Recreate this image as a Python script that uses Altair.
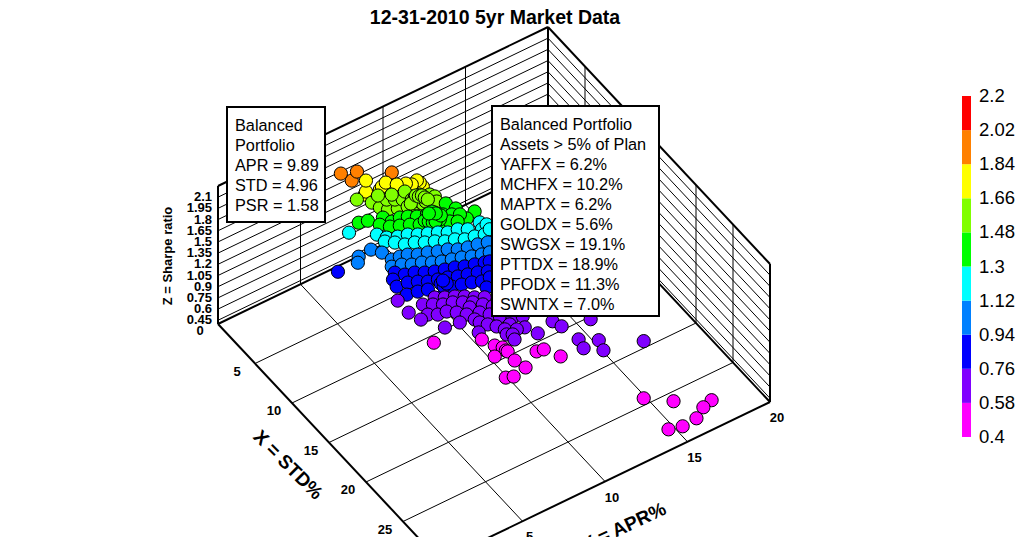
import altair as alt
import pandas as pd

# Portfolio cloud, read band by band: (STD %, APR %), Sharpe from the colour band
band_sharpe = [1.93, 1.75, 1.57, 1.39, 1.21, 1.03, 0.85, 0.67, 0.50]

orange_std = [3.07, 2.00, 2.50, 4.04]
orange_apr = [6.73, 6.55, 7.30, 8.72]

yellow_std = [5.40, 4.92, 4.62, 4.76, 4.43, 3.86, 3.69, 3.50, 4.13, 3.67, 3.45, 2.49]
yellow_apr = [9.99, 10.02, 9.98, 9.61, 9.40, 8.08, 8.28, 8.60, 8.98, 7.25, 7.42, 7.85]

lime_std = [2.60, 3.49, 4.26, 4.78, 5.10, 3.85, 4.19, 4.52, 4.64, 4.80, 5.22, 5.60, 5.34, 5.72, 5.88, 6.22, 6.12, 3.13, 3.63, 3.91,
            4.90, 4.85, 5.15, 5.11, 5.40, 5.24, 5.46, 5.41, 5.71, 5.66, 5.21, 4.72, 4.93, 4.97, 5.27, 5.57]
lime_apr = [7.25, 7.76, 7.90, 8.16, 8.61, 8.50, 8.84, 9.17, 9.67, 10.07, 10.49, 10.63, 9.10, 9.48, 9.89, 10.23, 10.51, 8.29, 8.90, 9.57,
            9.55, 9.75, 9.80, 10.01, 10.05, 9.51, 9.60, 9.80, 9.85, 10.05, 9.35, 9.88, 9.96, 10.13, 10.17, 10.22]

green_std = [3.52, 3.73, 5.50, 6.36, 7.41, 7.69, 4.09, 4.81, 4.80, 5.05, 5.43, 5.67, 5.83, 6.34, 6.71, 7.05, 4.58, 5.17, 5.50, 5.84, 6.25, 6.58, 7.00, 7.24, 7.57,
             5.97, 5.92, 6.31, 6.26, 6.65, 6.11, 6.36, 6.62, 6.65, 6.34, 5.62, 5.95, 5.66]
green_apr = [6.95, 7.41, 11.34, 11.56, 12.23, 11.63, 8.16, 8.37, 8.87, 9.24, 9.62, 10.12, 10.52, 10.79, 11.16, 11.50, 7.75, 8.10, 8.55, 9.01, 9.42, 9.88, 10.30, 10.80, 11.13,
             10.04, 10.24, 10.25, 10.45, 10.46, 9.79, 9.92, 10.05, 10.21, 10.66, 10.44, 10.53, 10.24]

cyan_std = [2.81, 4.15, 4.82, 5.20, 5.44, 5.86, 6.19, 6.53, 6.94, 7.09, 7.51, 7.40, 8.10, 7.87, 5.09, 5.60, 6.19, 6.43, 6.85, 7.18, 7.60, 7.85, 8.26, 8.42, 8.66, 8.43]
cyan_apr = [6.68, 7.77, 8.06, 8.56, 9.06, 9.48, 9.94, 10.40, 10.81, 11.35, 11.77, 12.54, 12.36, 12.75, 7.83, 8.21, 8.55, 9.04, 9.46, 9.92, 10.34, 10.84, 11.25, 11.78, 12.28, 12.69]

azure_std = [4.04, 4.14, 4.63, 4.76, 5.78, 5.86, 6.02, 6.44, 6.68, 7.01, 7.25, 7.67, 7.92, 8.07, 8.32, 6.40, 6.64, 7.06, 7.31, 7.73, 8.05, 8.29, 8.54, 8.87, 9.12, 9.27]
azure_apr = [7.46, 6.67, 6.40, 7.80, 7.94, 8.39, 8.80, 9.22, 9.72, 10.18, 10.67, 11.09, 11.59, 12.12, 12.62, 7.66, 8.16, 8.58, 9.08, 9.50, 9.95, 10.45, 10.94, 11.40, 11.90, 12.31]

blue_std = [3.41, 5.88, 6.47, 6.71, 7.13, 7.46, 7.71, 7.95, 8.27, 8.52, 8.77, 8.89, 6.41, 7.18, 7.29, 7.63, 8.05, 8.29, 8.53, 8.86, 9.10, 9.35, 9.68, 8.30, 8.50, 8.75, 9.94, 9.48, 9.73, 9.97, 10.31, 10.29, 11.03,
            8.76, 9.15, 9.01, 8.59]
blue_apr = [5.74, 8.08, 8.42, 8.91, 9.33, 9.79, 10.29, 10.79, 11.24, 11.74, 12.23, 12.48, 7.73, 7.61, 8.23, 8.69, 9.11, 9.61, 10.10, 10.56, 11.05, 11.55, 12.01, 7.72, 8.30, 8.80, 9.10, 9.91, 10.41, 10.91, 11.37, 11.86, 11.33,
            9.57, 9.58, 9.82, 9.78]

purple_std = [8.55, 8.97, 9.31, 9.72, 10.22, 10.64, 7.27, 8.67, 9.09, 9.51, 9.74, 10.16, 10.58, 11.18, 11.77, 12.18, 10.89, 12.69, 8.78, 9.75, 10.17, 10.28, 10.79, 11.38, 11.75, 12.34, 12.93, 13.56, 9.90, 12.15, 12.62, 13.13, 13.89, 13.68, 11.79, 11.60, 14.05, 14.28, 14.94, 14.78, 13.45, 14.80, 15.05, 15.57, 16.01, 15.58, 16.40, 17.00, 18.25, 19.24, 19.17, 20.25, 21.14]
purple_apr = [9.30, 9.72, 10.18, 10.59, 10.97, 11.39, 7.63, 8.53, 8.95, 9.37, 9.86, 10.28, 10.70, 11.04, 11.38, 11.79, 10.37, 12.17, 7.62, 8.34, 8.76, 9.25, 9.63, 9.97, 10.59, 10.93, 11.28, 11.78, 7.86, 10.11, 10.20, 10.46, 12.24, 10.75, 9.37, 8.55, 11.38, 10.98, 11.89, 11.48, 9.77, 10.86, 11.11, 10.99, 12.20, 13.29, 13.47, 14.96, 13.67, 13.53, 14.48, 14.28, 16.32]

magenta_std = [11.35, 13.09, 14.16, 14.66, 15.06, 15.22, 15.12, 16.30, 17.37, 17.42, 17.66, 16.43, 16.56, 17.88, 25.02, 26.53, 28.04, 28.31, 28.98, 29.10, 28.77]
magenta_apr = [7.99, 10.12, 10.42, 10.68, 10.69, 10.73, 9.99, 10.67, 10.85, 9.63, 10.00, 11.94, 12.32, 12.75, 14.58, 15.71, 17.34, 16.72, 16.00, 15.11, 14.40]

std_ticks = [5, 10, 15, 20, 25]
apr_ticks = [5, 10, 15, 20]
z_ticks = [0.45, 0.6, 0.75, 0.9, 1.05, 1.2, 1.35, 1.5, 1.65, 1.8, 1.95, 2.1]
z_labels = ["0.45", "0.6", "0.75", "0.9", "1.05", "1.2", "1.35", "1.5", "1.65", "1.8", "1.95", "2.1"]
legend_ticks = [0.4, 0.58, 0.76, 0.94, 1.12, 1.3, 1.48, 1.66, 1.84, 2.02, 2.2]
legend_labels = ["0.4", "0.58", "0.76", "0.94", "1.12", "1.3", "1.48", "1.66", "1.84", "2.02", "2.2"]
band_colors = ["#ff00ff", "#8000ff", "#0000ff", "#0080ff", "#00ffff", "#00ff00", "#80ff00", "#ffff00", "#ff8000", "#ff0000"]

box1_lines = ["Balanced", "Portfolio", "APR = 9.89", "STD = 4.96", "PSR = 1.58"]
box2_lines = ["Balanced Portfolio", "Assets > 5% of Plan", "YAFFX = 6.2%", "MCHFX = 10.2%", "MAPTX = 6.2%",
              "GOLDX = 5.6%", "SWGSX = 19.1%", "PTTDX = 18.9%", "PFODX = 11.3%", "SWNTX = 7.0%"]

STD_MAX, APR_MAX, Z_MIN, Z_MAX = 30, 20, 0.4, 2.25


def px(s, a):
    return 218 + 7.4 * s + 16.5 * a


def py(s, a, z=Z_MIN):
    return 324 + 7.9 * s - 7.95 * a - 74.6 * (z - Z_MIN)


def seg(s1, a1, z1, s2, a2, z2):
    return dict(x=px(s1, a1), y=py(s1, a1, z1), x2=px(s2, a2), y2=py(s2, a2, z2))


# points
bands = [(orange_std, orange_apr), (yellow_std, yellow_apr), (lime_std, lime_apr), (green_std, green_apr), (cyan_std, cyan_apr),
         (azure_std, azure_apr), (blue_std, blue_apr), (purple_std, purple_apr), (magenta_std, magenta_apr)]
rows = []
for z, (ss, aa) in zip(band_sharpe, bands):
    for s, a in zip(ss, aa):
        rows.append(dict(x=px(s, a), y=py(s, a, z), sharpe=z))
points = pd.DataFrame(rows)

# frame
thin, thick = [], []
for z in z_ticks:
    thin.append(seg(0, 0, z, 0, APR_MAX, z))
    thin.append(seg(0, APR_MAX, z, STD_MAX, APR_MAX, z))
for a in apr_ticks[:-1]:
    thin.append(seg(0, a, Z_MIN, STD_MAX, a, Z_MIN))
    thin.append(seg(0, a, Z_MIN, 0, a, Z_MAX))
for s in std_ticks:
    thin.append(seg(s, 0, Z_MIN, s, APR_MAX, Z_MIN))
    thin.append(seg(s, APR_MAX, Z_MIN, s, APR_MAX, Z_MAX))
thick += [
    seg(0, 0, Z_MIN, 0, APR_MAX, Z_MIN), seg(0, APR_MAX, Z_MIN, STD_MAX, APR_MAX, Z_MIN),
    seg(0, 0, Z_MIN, STD_MAX, 0, Z_MIN), seg(STD_MAX, 0, Z_MIN, STD_MAX, APR_MAX, Z_MIN),
    seg(0, 0, Z_MIN, 0, 0, Z_MAX), seg(0, APR_MAX, Z_MIN, 0, APR_MAX, Z_MAX), seg(STD_MAX, APR_MAX, Z_MIN, STD_MAX, APR_MAX, Z_MAX),
    seg(0, 0, Z_MAX, 0, APR_MAX, Z_MAX), seg(0, APR_MAX, Z_MAX, STD_MAX, APR_MAX, Z_MAX),
]
thin_df, thick_df = pd.DataFrame(thin), pd.DataFrame(thick)

X = alt.X("x:Q", scale=alt.Scale(domain=[8, 1016], nice=False, zero=False), axis=None)
Y = alt.Y("y:Q", scale=alt.Scale(domain=[537, 8], nice=False, zero=False), axis=None)
COLOR = alt.Color("sharpe:Q", scale=alt.Scale(type="threshold", domain=legend_ticks[1:-1], range=band_colors), legend=None)


def rules(df, width):
    return alt.Chart(df).mark_rule(color="black", strokeWidth=width).encode(x=X, y=Y, x2="x2:Q", y2="y2:Q")


def texts(rows_, size, font="Liberation Sans", weight="normal", angle=0, align="left"):
    return alt.Chart(pd.DataFrame(rows_)).mark_text(
        fontSize=size, font=font, fontWeight=weight, angle=angle, align=align, baseline="middle", color="black"
    ).encode(x=X, y=Y, text="label:N")


layers = [rules(thin_df, 1), rules(thick_df, 2)]
layers.append(alt.Chart(points).mark_circle(size=175, opacity=1, stroke="black", strokeWidth=1).encode(x=X, y=Y, color=COLOR))

# annotation boxes
boxes = pd.DataFrame([dict(x=227, x2=325, y=107, y2=222), dict(x=492, x2=659, y=106, y2=316)])
layers.append(alt.Chart(boxes).mark_rect(fill="white", stroke="black", strokeWidth=2).encode(x=X, y=Y, x2="x2:Q", y2="y2:Q"))
layers.append(texts([dict(x=235, y=126 + 20 * i, label=t) for i, t in enumerate(box1_lines)], 16.3))
layers.append(texts([dict(x=500, y=125 + 20 * i, label=t) for i, t in enumerate(box2_lines)], 16.3))

# title
layers.append(texts([dict(x=495, y=18, label="12-31-2010 5yr Market Data")], 19.5, weight="bold", align="center"))

# axis labels
layers.append(texts([dict(x=212, y=py(0, 0, z), label=l) for z, l in zip(z_ticks, z_labels)], 13, weight="bold", align="right"))
layers.append(texts([dict(x=200, y=331, label="0")], 13, weight="bold", align="center"))
layers.append(texts([dict(x=px(s, 0) - 18, y=py(s, 0) + 8, label=str(s)) for s in std_ticks], 13, weight="bold", align="center"))
layers.append(texts([dict(x=px(STD_MAX, a) + 7, y=py(STD_MAX, a) + 16, label=str(a)) for a in apr_ticks], 13, weight="bold", align="center"))
layers.append(texts([dict(x=168, y=256, label="Z = Sharpe ratio")], 13, weight="bold", angle=270, align="center"))
layers.append(texts([dict(x=288, y=465, label="X = STD%")], 19, weight="bold", angle=45, align="center"))
layers.append(texts([dict(x=624, y=527, label="Y = APR%")], 19, weight="bold", angle=335, align="center"))


# colour bar
def bar_y(v):
    return 437 - (v - legend_ticks[0]) / (legend_ticks[-1] - legend_ticks[0]) * 341


bar = pd.DataFrame([dict(x=962, x2=971, y=bar_y(lo), y2=bar_y(hi), sharpe=(lo + hi) / 2)
                    for lo, hi in zip(legend_ticks[:-1], legend_ticks[1:])])
layers.append(alt.Chart(bar).mark_rect().encode(x=X, y=Y, x2="x2:Q", y2="y2:Q", color=COLOR))
layers.append(texts([dict(x=979, y=bar_y(v), label=l) for v, l in zip(legend_ticks, legend_labels)], 18.5))

chart = alt.layer(*layers).properties(
    width=1008, height=529, padding=0, background="white", autosize=alt.AutoSizeParams(type="none")
).configure_view(stroke=None)

chart.save("out.html", embed_options={"renderer": "svg", "actions": False})
